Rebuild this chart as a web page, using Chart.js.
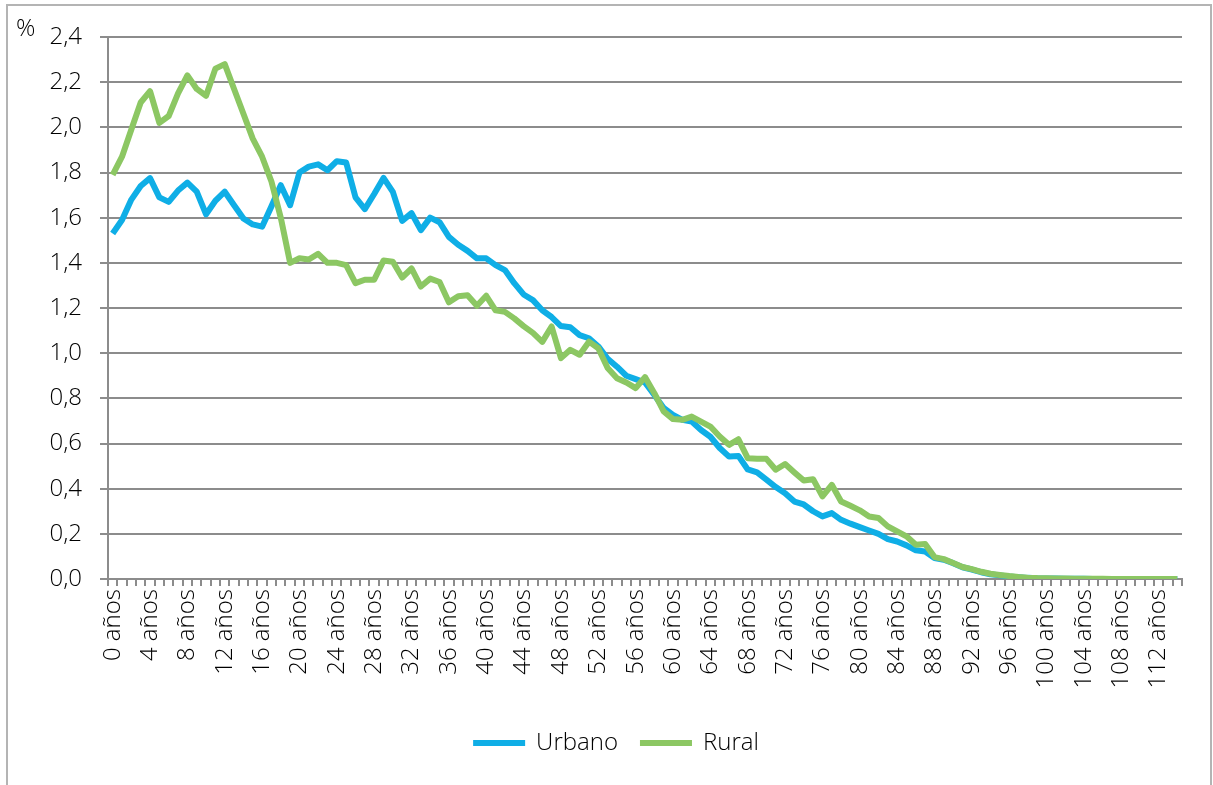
<!DOCTYPE html>
<html>
<head>
<meta charset="utf-8">
<script src="https://cdn.jsdelivr.net/npm/chart.js@4/dist/chart.umd.min.js"></script>
<style>
  html, body { margin: 0; padding: 0; background: #fff; }
  #wrap { position: relative; width: 1213px; height: 785px; }
</style>
</head>
<body>
<div id="wrap"><canvas id="chart" width="1213" height="785"></canvas></div>
<script>
var ages = Array.from({ length: 115 }, function (_, i) { return i + ' años'; });

var urbano = [
    1.53, 1.59, 1.68, 1.74, 1.775, 1.69, 1.67, 1.72, 1.755, 1.715,
    1.615, 1.675, 1.715, 1.655, 1.596, 1.57, 1.56, 1.65, 1.744, 1.655,
    1.80, 1.826, 1.836, 1.81, 1.85, 1.844, 1.69, 1.638, 1.705, 1.776,
    1.714, 1.586, 1.62, 1.545, 1.60, 1.58, 1.515, 1.48, 1.453, 1.42,
    1.42, 1.39, 1.368, 1.31, 1.26, 1.235, 1.19, 1.16, 1.12, 1.115,
    1.08, 1.066, 1.03, 0.975, 0.94, 0.90, 0.885, 0.87, 0.815, 0.757,
    0.727, 0.705, 0.697, 0.66, 0.63, 0.58, 0.542, 0.545, 0.485, 0.472,
    0.44, 0.407, 0.38, 0.343, 0.33, 0.30, 0.277, 0.292, 0.262, 0.245,
    0.23, 0.215, 0.20, 0.177, 0.166, 0.149, 0.127, 0.122, 0.093, 0.085,
    0.07, 0.052, 0.042, 0.03, 0.021, 0.016, 0.011, 0.008, 0.005, 0.003,
    0.002, 0.002, 0.001, 0.001, 0.001, 0, 0, 0, 0, 0,
    0, 0, 0, 0, 0
];

var rural = [
    1.79, 1.87, 1.99, 2.11, 2.16, 2.02, 2.05, 2.15, 2.23, 2.17,
    2.14, 2.26, 2.28, 2.17, 2.06, 1.95, 1.87, 1.76, 1.60, 1.40,
    1.42, 1.415, 1.44, 1.40, 1.40, 1.39, 1.31, 1.325, 1.325, 1.41,
    1.405, 1.335, 1.375, 1.295, 1.33, 1.315, 1.225, 1.252, 1.256, 1.21,
    1.254, 1.19, 1.183, 1.154, 1.12, 1.09, 1.05, 1.118, 0.978, 1.015,
    0.993, 1.051, 1.022, 0.934, 0.889, 0.87, 0.845, 0.894, 0.823, 0.742,
    0.708, 0.705, 0.719, 0.697, 0.675, 0.631, 0.594, 0.619, 0.535, 0.533,
    0.532, 0.484, 0.509, 0.472, 0.436, 0.442, 0.366, 0.417, 0.343, 0.324,
    0.304, 0.277, 0.27, 0.233, 0.211, 0.189, 0.152, 0.155, 0.097, 0.088,
    0.071, 0.053, 0.044, 0.032, 0.023, 0.018, 0.013, 0.009, 0.006, 0.004,
    0.003, 0.002, 0.002, 0.001, 0.001, 0.001, 0.001, 0, 0, 0,
    0, 0, 0, 0, 0
];

var seriesNames = ['Urbano', 'Rural'];
var seriesColors = ['#0faee6', '#8cc763'];
var yUnit = '%';

var FONT = '"Open Sans", "DejaVu Sans", sans-serif';
var textColor = '#000';
var gridColor = '#8c8c8c';

// frame, unit label and legend drawn by hand
var decorPlugin = {
    id: 'decor',
    beforeDraw: function (chart) {
        var ctx = chart.ctx;
        ctx.save();
        ctx.strokeStyle = '#b4b4b4';
        ctx.lineWidth = 2;
        ctx.strokeRect(7, 5, 1204, 820);
        ctx.restore();
    },
    afterDraw: function (chart) {
        var ctx = chart.ctx;
        ctx.save();
        ctx.fillStyle = textColor;
        ctx.font = '300 24px ' + FONT;
        ctx.textBaseline = 'middle';
        ctx.textAlign = 'left';
        ctx.fillText(yUnit, 16, 29);

        // legend
        var lineW = 52, gapText = 11, gapItem = 22, y = 743;
        var sets = chart.data.datasets;
        var total = 0;
        sets.forEach(function (ds, i) {
            total += lineW + gapText + ctx.measureText(ds.label).width;
            if (i < sets.length - 1) total += gapItem;
        });
        var x = 616 - total / 2;
        sets.forEach(function (ds) {
            ctx.fillStyle = ds.borderColor;
            ctx.fillRect(x, y - 3, lineW, 6);
            x += lineW + gapText;
            ctx.fillStyle = textColor;
            ctx.fillText(ds.label, x, y);
            x += ctx.measureText(ds.label).width + gapItem;
        });
        ctx.restore();
    }
};

new Chart(document.getElementById('chart').getContext('2d'), {
    type: 'line',
    data: {
        labels: ages,
        datasets: [{
            label: seriesNames[0],
            data: urbano,
            borderColor: seriesColors[0],
            backgroundColor: seriesColors[0],
            borderWidth: 6,
            pointRadius: 0,
            tension: 0,
            borderJoinStyle: 'round',
            order: 2
        }, {
            label: seriesNames[1],
            data: rural,
            borderColor: seriesColors[1],
            backgroundColor: seriesColors[1],
            borderWidth: 6,
            pointRadius: 0,
            tension: 0,
            borderJoinStyle: 'round',
            order: 1
        }]
    },
    options: {
        responsive: false,
        devicePixelRatio: 1,
        animation: false,
        layout: { padding: { left: 0, right: 31, top: 37, bottom: 0 } },
        plugins: {
            legend: { display: false },
            tooltip: { enabled: false }
        },
        scales: {
            x: {
                offset: true,
                grid: {
                    offset: true,
                    drawOnChartArea: false,
                    drawTicks: true,
                    tickLength: 7,
                    color: gridColor,
                    lineWidth: 2
                },
                border: { color: gridColor, width: 2 },
                ticks: {
                    autoSkip: false,
                    maxRotation: 90,
                    minRotation: 90,
                    padding: 3,
                    color: textColor,
                    font: { family: FONT, size: 24, weight: 300 },
                    callback: function (value, index) {
                        return index % 4 === 0 ? ages[index] : '';
                    }
                },
                afterFit: function (scale) { scale.height = 785 - 579; }
            },
            y: {
                min: 0,
                max: 2.4,
                grid: {
                    color: gridColor,
                    lineWidth: 2,
                    tickLength: 8
                },
                border: { color: gridColor, width: 2 },
                ticks: {
                    stepSize: 0.2,
                    padding: 18,
                    color: textColor,
                    font: { family: FONT, size: 24, weight: 300 },
                    callback: function (value) {
                        return value.toFixed(1).replace('.', ',');
                    }
                },
                afterFit: function (scale) { scale.width = 108; }
            }
        }
    },
    plugins: [decorPlugin]
});
</script>
</body>
</html>
